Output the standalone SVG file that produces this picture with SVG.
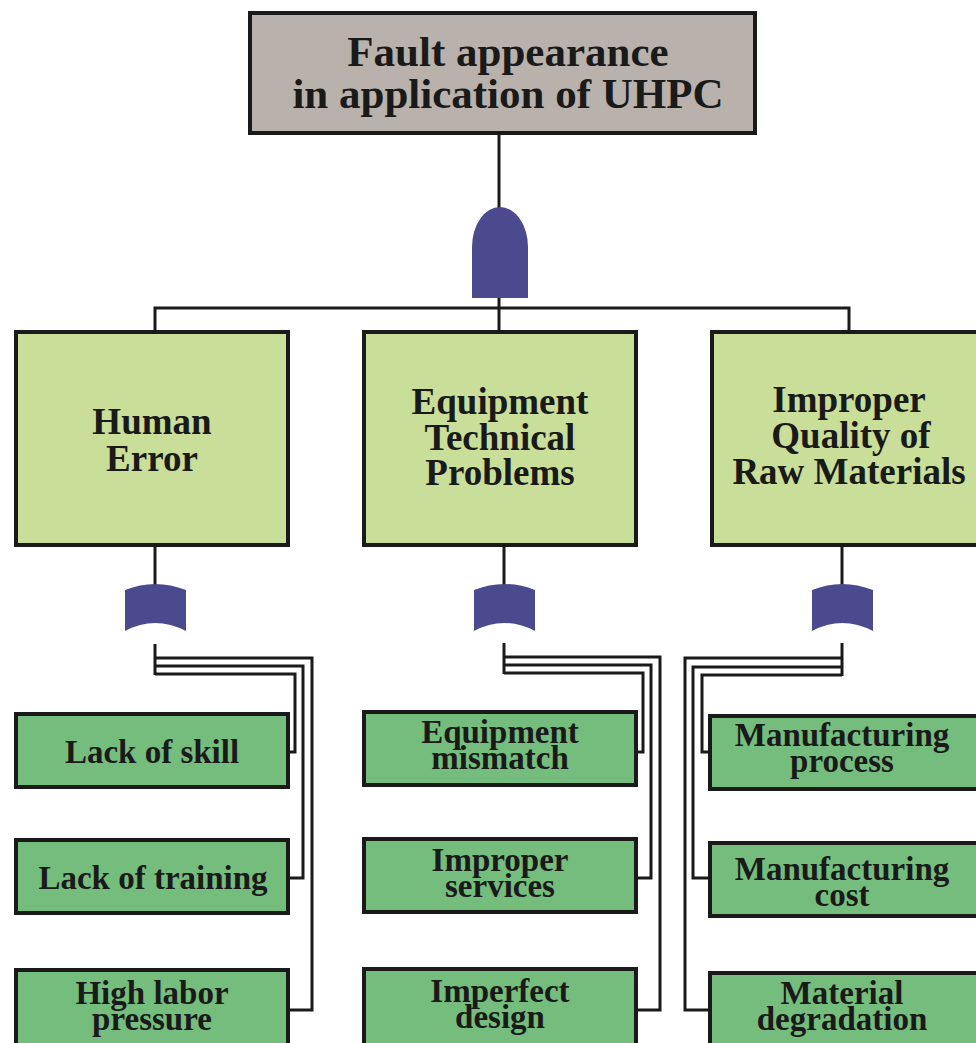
<svg xmlns="http://www.w3.org/2000/svg" width="976" height="1043" viewBox="0 0 976 1043">
<style>
  .top{fill:#b9b1ab;stroke:#1a1a1a;stroke-width:4}
  .l2{fill:#c9de98;stroke:#1a1a1a;stroke-width:4}
  .l3{fill:#74bd7d;stroke:#1a1a1a;stroke-width:4}
  .gate{fill:#4b4a8e;stroke:none}
  .wire{fill:none;stroke:#1a1a1a;stroke-width:3}
  text{font-family:"Liberation Serif","Times New Roman",serif;font-weight:bold;fill:#1a1a1a;text-anchor:middle}
  .t1{font-size:43px}
  .t2{font-size:37px}
  .t3{font-size:33px}
</style>
<rect width="976" height="1043" fill="#ffffff"/>
<g id="connectors">
  <path class="wire" d="M499,134 V330"/>
  <path class="wire" d="M155,330 V308 H849 V330"/>
  <path class="wire" d="M155,547 V586"/>
  <path class="wire" d="M155,644 V675"/>
  <path class="wire" d="M155,674 H295 V752 H290"/>
  <path class="wire" d="M155,666 H303 V878 H290"/>
  <path class="wire" d="M155,658 H312 V1010 H290"/>
  <path class="wire" d="M504,547 V586"/>
  <path class="wire" d="M504,643 V674"/>
  <path class="wire" d="M504,673 H643 V752 H637"/>
  <path class="wire" d="M504,665 H651 V878 H637"/>
  <path class="wire" d="M504,657 H660 V1010 H637"/>
  <path class="wire" d="M842,547 V586"/>
  <path class="wire" d="M842,643 V676"/>
  <path class="wire" d="M842,675 H702 V752 H708"/>
  <path class="wire" d="M842,667 H693 V878 H708"/>
  <path class="wire" d="M842,658 H685 V1010 H708"/>
</g>
<g id="gate-and">
  <path class="gate" d="M472,298 V247 A28,40 0 0 1 528,247 V298 Z"/>
</g>
<g id="gate-human">
  <path class="gate" d="M125,590 Q155,578 186,590 V631 Q155,615 125,631 Z"/>
</g>
<g id="gate-equipment">
  <path class="gate" d="M474,590 Q504,578 535,590 V631 Q504,615 474,631 Z"/>
</g>
<g id="gate-materials">
  <path class="gate" d="M812,590 Q842,578 873,590 V631 Q842,615 812,631 Z"/>
</g>
<g id="node-top">
  <rect class="top" x="250" y="13" width="505" height="120"/>
  <text class="t1" x="508" y="66">Fault appearance</text>
  <text class="t1" x="508" y="108">in application of UHPC</text>
</g>
<g id="node-human-error">
  <rect class="l2" x="16" y="332" width="272" height="213"/>
  <text class="t2" x="152" y="434">Human</text>
  <text class="t2" x="152" y="471">Error</text>
</g>
<g id="node-equipment">
  <rect class="l2" x="364" y="332" width="272" height="213"/>
  <text class="t2" x="500" y="414">Equipment</text>
  <text class="t2" x="500" y="450">Technical</text>
  <text class="t2" x="500" y="485">Problems</text>
</g>
<g id="node-materials">
  <rect class="l2" x="712" y="332" width="280" height="213"/>
  <text class="t2" x="849" y="412">Improper</text>
  <text class="t2" x="851" y="448">Quality of</text>
  <text class="t2" x="849" y="484">Raw Materials</text>
</g>
<g id="node-lack-skill">
  <rect class="l3" x="16" y="714" width="272" height="73"/>
  <text class="t3" x="152" y="763">Lack of skill</text>
</g>
<g id="node-lack-training">
  <rect class="l3" x="16" y="840" width="272" height="73"/>
  <text class="t3" x="153" y="889">Lack of training</text>
</g>
<g id="node-high-labor">
  <rect class="l3" x="16" y="970" width="272" height="90"/>
  <text class="t3" x="152" y="1004">High labor</text>
  <text class="t3" x="152" y="1030">pressure</text>
</g>
<g id="node-equipment-mismatch">
  <rect class="l3" x="364" y="712" width="272" height="73"/>
  <text class="t3" x="500" y="743">Equipment</text>
  <text class="t3" x="500" y="769">mismatch</text>
</g>
<g id="node-improper-services">
  <rect class="l3" x="364" y="839" width="272" height="73"/>
  <text class="t3" x="500" y="871">Improper</text>
  <text class="t3" x="500" y="897">services</text>
</g>
<g id="node-imperfect-design">
  <rect class="l3" x="364" y="969" width="272" height="90"/>
  <text class="t3" x="500" y="1002">Imperfect</text>
  <text class="t3" x="500" y="1028">design</text>
</g>
<g id="node-manufacturing-process">
  <rect class="l3" x="710" y="716" width="280" height="73"/>
  <text class="t3" x="842" y="746">Manufacturing</text>
  <text class="t3" x="842" y="772">process</text>
</g>
<g id="node-manufacturing-cost">
  <rect class="l3" x="710" y="843" width="280" height="73"/>
  <text class="t3" x="842" y="880">Manufacturing</text>
  <text class="t3" x="842" y="906">cost</text>
</g>
<g id="node-material-degradation">
  <rect class="l3" x="710" y="973" width="280" height="90"/>
  <text class="t3" x="842" y="1004">Material</text>
  <text class="t3" x="842" y="1030">degradation</text>
</g>
</svg>
